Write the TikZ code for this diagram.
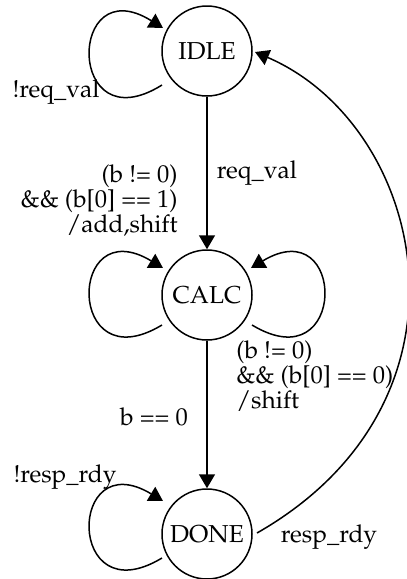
\documentclass[tikz,border=0pt]{standalone}
\usepackage[T1]{fontenc}
\usepackage{mathpazo}
\usepackage{tikz}
\usetikzlibrary{arrows.meta,calc}
\tikzset{
  state/.style={draw, circle, line width=0.75pt, minimum size=45pt, inner sep=0pt},
  arrow/.style={-{Triangle[length=7pt, width=8pt]}, line width=0.75pt},
  lbl/.style={inner sep=0pt, align=center}
}

\begin{document}
\begin{tikzpicture}[x=0.5pt, y=-0.5pt, font=\fontsize{12.25}{12.5}\selectfont]
  \useasboundingbox (0,0) rectangle (407,579);

  \node[state] (idle) at (207,51) {IDLE};
  \node[state] (calc) at (207,295) {CALC};
  \node[state] (done) at (207,534) {DONE};

  % self loops
  \draw[arrow] ($(idle)+(-45,34)$) .. controls +(-96,60) and +(-96,-60) .. ($(idle)+(-44,-23)$);
  \draw[arrow] ($(calc)+(-45,30)$) .. controls +(-96,58) and +(-96,-58) .. ($(calc)+(-44,-27)$);
  \draw[arrow] ($(calc)+(45,30)$) .. controls +(96,58) and +(96,-58) .. ($(calc)+(44,-27)$);
  \draw[arrow] ($(done)+(-45,24)$) .. controls +(-96,58) and +(-96,-58) .. ($(done)+(-44,-33)$);

  % transitions
  \draw[arrow] (idle.south) -- (calc.north);
  \draw[arrow] (calc.south) -- (done.north);
  \draw[arrow] ($(done)+(50,-1)$) .. controls +(233,-133) and +(170,73) .. ($(idle)+(48,1)$);

  % labels
  \node[lbl] (l_idle) at (56,92) {!req\_val};
  \node[lbl] (l_req) at (257,173) {req\_val};
  \node[lbl, anchor=east, align=right] (l_add) at (178,201) {(b != 0)\\\&\& (b[0] == 1)\\/add,shift};
  \node[lbl, anchor=west, align=left] (l_shift) at (236,376) {(b != 0)\\\&\& (b[0] == 0)\\/shift};
  \node[lbl] (l_zero) at (154,417) {b == 0};
  \node[lbl] (l_done) at (65,477) {!resp\_rdy};
  \node[lbl] (l_resp) at (329,537) {resp\_rdy};
\end{tikzpicture}
\end{document}
